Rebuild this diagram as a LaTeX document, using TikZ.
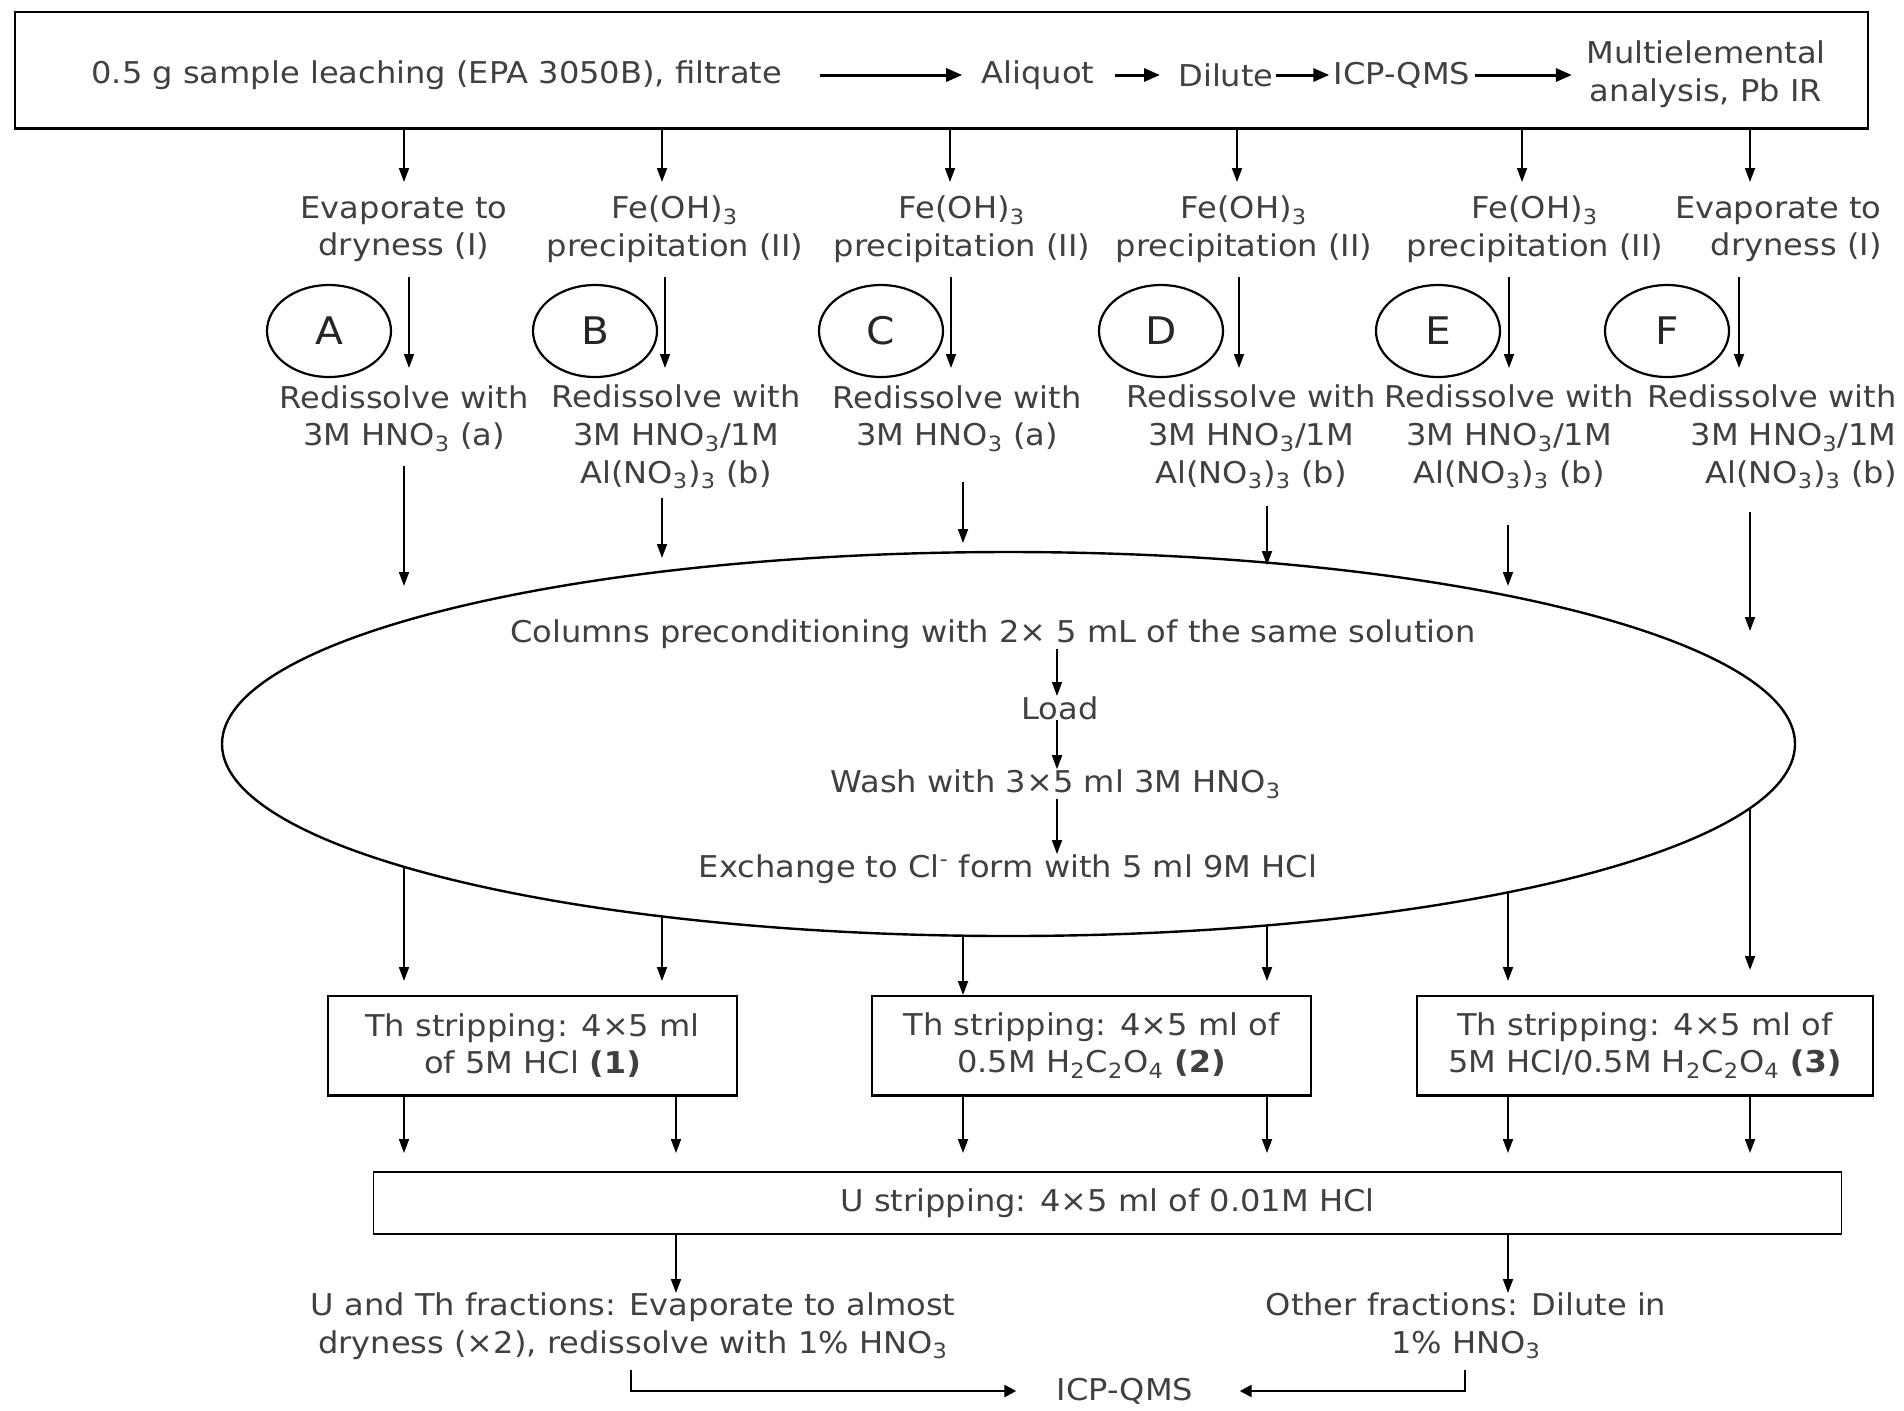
\documentclass[tikz,border=0pt]{standalone}
\usepackage{fontspec}
\setmainfont{DejaVu Sans}[FakeStretch=1.07]
\usetikzlibrary{arrows.meta,shapes.geometric,intersections}
\newcommand{\mysub}[1]{\textsubscript{#1}}
\begin{document}
\begin{tikzpicture}[x=0.5pt,y=-0.5pt,
  txt/.style={text=black!75, inner sep=0pt, align=center, font=\fontsize{15}{18.8}\selectfont},
  box/.style={draw, line width=0.9pt, inner sep=0pt,
    append after command={[line width=1.7pt] (\tikzlastnode.north west) edge[-] (\tikzlastnode.north east)
      (\tikzlastnode.south west) edge[-] (\tikzlastnode.south east)}},
  lbl/.style={draw, ellipse, line width=1.1pt, minimum width=62pt, minimum height=46pt, inner sep=0pt, font=\fontsize{19}{22}\selectfont, text=black!85},
  arr/.style={-{Triangle[length=7pt,width=5pt]}, line width=0.9pt},
  arrT/.style={-{Triangle[length=8pt,width=6.5pt]}, line width=1.5pt},
  arrB/.style={-{Triangle[length=6pt,width=6pt]}, line width=1.3pt},
]
\useasboundingbox[fill=white] (0,0) rectangle (1904,1410);

% top box
\node[box, minimum width=926.5pt, minimum height=58pt] (top) at (941.5,70) {};
\node[txt, anchor=west] (t1) at (91,75) {0.5 g sample leaching (EPA 3050B), filtrate};
\node[txt] (t2) at (1038,75) {Aliquot};
\node[txt] (t3) at (1226,75) {Dilute};
\node[txt] (t4) at (1402,75) {ICP-QMS};
\node[txt] (t5) at (1706,74.5) {Multielemental\\analysis, Pb IR};
\draw[arrT, shorten <=18.5pt, shorten >=9.5pt] (t1.east) -- (t1.east -| t2.west);
\draw[arrT, shorten <=10pt, shorten >=9pt] (t2.east) -- (t2.east -| t3.west);
\draw[arrT, shorten <=1pt, shorten >=2pt] (t3.east) -- (t3.east -| t4.west);
\draw[arrT, shorten <=2pt, shorten >=7pt] (t4.east) -- (t4.east -| t5.west);

% row 1
\node[txt] (r1a) at (404,229) {Evaporate to\\dryness (I)};
\node[txt] (r1b) at (675,229) {Fe(OH)\mysub{3}\\precipitation (II)};
\node[txt] (r1c) at (962,229) {Fe(OH)\mysub{3}\\precipitation (II)};
\node[txt] (r1d) at (1244,229) {Fe(OH)\mysub{3}\\precipitation (II)};
\node[txt] (r1e) at (1535,229) {Fe(OH)\mysub{3}\\precipitation (II)};
\node[txt, anchor=east, align=right] (r1f) at (1882,229) {Evaporate to\\dryness (I)};

\foreach \x/\n in {404/a,662/b,950/c,1237/d,1522/e,1750/f}{
  \coordinate (e1\n) at (\x,182);
  \draw[arr] (top.south -| e1\n) -- (e1\n);
}

% circles
\node[lbl] (cA) at (329,331) {A};
\node[lbl] (cB) at (595,331) {B};
\node[lbl] (cC) at (881,331) {C};
\node[lbl] (cD) at (1161,331) {D};
\node[lbl] (cE) at (1438,331) {E};
\node[lbl] (cF) at (1667,331) {F};

% row 2 arrows
\foreach \x/\n in {409/a,665/b,951/c,1239/d,1509/e,1739/f}{
  \coordinate (s2\n) at (\x,277);
  \coordinate (e2\n) at (\x,368);
  \draw[arr] (s2\n) -- (e2\n);
}

% row 3
\node[txt] (r3a) at (404,418.5) {Redissolve with\\3M HNO\mysub{3} (a)};
\node[txt] (r3b) at (676,437) {Redissolve with\\3M HNO\mysub{3}/1M\\Al(NO\mysub{3})\mysub{3} (b)};
\node[txt] (r3c) at (957,418.5) {Redissolve with\\3M HNO\mysub{3} (a)};
\node[txt] (r3d) at (1251,437) {Redissolve with\\3M HNO\mysub{3}/1M\\Al(NO\mysub{3})\mysub{3} (b)};
\node[txt] (r3e) at (1509,437) {Redissolve with\\3M HNO\mysub{3}/1M\\Al(NO\mysub{3})\mysub{3} (b)};
\node[txt, anchor=east, align=right] (r3f) at (1897,437) {Redissolve with\\3M HNO\mysub{3}/1M\\Al(NO\mysub{3})\mysub{3} (b)};

% ellipse
\node[draw, ellipse, line width=1.2pt, minimum width=786.5pt, minimum height=192pt, inner sep=0pt, name path=ellp] (ell) at (1008.5,744) {};

\foreach \x/\a/\b in {404/466/586,662/498/558,963/482/543,1267/506/565,1508/525/586,1750/512/631}{
  \coordinate (s3) at (\x,\a);
  \coordinate (e3) at (\x,\b);
  \draw[arr] (s3) -- (e3);
}

\node[txt] (e1) at (993,634) {Columns preconditioning with 2× 5 mL of the same solution};
\node[txt] (e2) at (1060,708) {Load};
\node[txt] (e3) at (1056,784) {Wash with 3×5 ml 3M HNO\mysub{3}};
\node[txt] (e4) at (1008,869) {Exchange to Cl\textsuperscript{-} form with 5 ml 9M HCl};
\draw[arr] (e1.south -| 1057,0) -- (e2.north -| 1057,0);
\draw[arr] (e2.south -| 1057,0) -- (e3.north -| 1057,0);
\draw[arr] (e3.south -| 1057,0) -- (e4.north -| 1057,0);

% Th boxes
\node[box, txt, minimum width=204.5pt, minimum height=49.5pt] (th1) at (532.5,1045.5) {Th stripping: 4×5 ml\\of 5M HCl \textbf{(1)}};
\node[box, txt, minimum width=219.5pt, minimum height=49.5pt] (th2) at (1091.5,1045.5) {Th stripping: 4×5 ml of\\0.5M H\mysub{2}C\mysub{2}O\mysub{4} \textbf{(2)}};
\node[box, txt, minimum width=228pt, minimum height=49.5pt] (th3) at (1645,1045.5) {Th stripping: 4×5 ml of\\5M HCl/0.5M H\mysub{2}C\mysub{2}O\mysub{4} \textbf{(3)}};

% lines from ellipse to Th boxes
\foreach \x/\y/\n in {404/981/a,662/981/b,963/995/c,1267/981/d,1508/981/e,1750/970/f}{
  \path[name path=v\n] (\x,744) -- (\x,1000);
  \path[name intersections={of=ellp and v\n, by={i\n}}];
  \coordinate (t\n) at (\x,\y);
  \draw[arr] (i\n) -- (t\n);
}

% U box
\node[box, txt, minimum width=734pt, minimum height=30.5pt] (ub) at (1107.5,1203) {U stripping: 4×5 ml of 0.01M HCl};

\foreach \x/\b in {404/th1,676/th1,963/th2,1267/th2,1508/th3,1750/th3}{
  \coordinate (u) at (\x,1153);
  \draw[arr] (\b.south -| u) -- (u);
}

\coordinate (ua) at (676,1293);
\coordinate (ue) at (1508,1293);
\draw[arr] (ub.south -| ua) -- (ua);
\draw[arr] (ub.south -| ue) -- (ue);

% bottom
\node[txt] (bl) at (633,1326) {U and Th fractions: Evaporate to almost\\dryness (×2), redissolve with 1\% HNO\mysub{3}};
\node[txt] (br) at (1466,1326) {Other fractions: Dilute in\\1\% HNO\mysub{3}};
\node[txt] (icp) at (1125,1391) {ICP-QMS};
\coordinate (la) at (631,1370);
\coordinate (ra) at (1465,1370);
\draw[arrB, shorten >=20pt] (la) |- (icp.west);
\draw[arrB, shorten >=23pt] (ra) |- (icp.east);
\end{tikzpicture}
\end{document}
